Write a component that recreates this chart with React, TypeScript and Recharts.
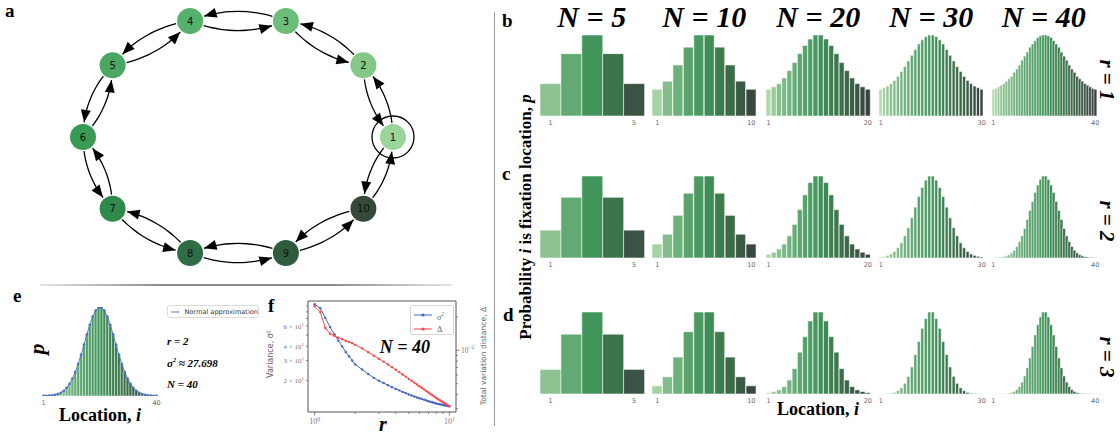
import React from 'react'
import {
  Bar,
  BarChart,
  Cell,
  ComposedChart,
  Line,
  ReferenceArea,
  Scatter,
  ScatterChart,
  XAxis,
  YAxis,
} from 'recharts'

// ---------- data ----------

const SIZES = [5, 10, 20, 30, 40]
const R_LABELS = [1, 2, 3]

// relative probability that location i is the fixation location (peak = 1)
const R1_N5 = [0.4, 0.77, 1.0, 0.77, 0.4]
const R1_N10 = [0.33, 0.43, 0.63, 0.85, 1.0, 1.0, 0.85, 0.63, 0.43, 0.33]
const R1_N20 = [0.33, 0.36, 0.4, 0.47, 0.56, 0.66, 0.77, 0.87, 0.95, 1.0, 1.0, 0.95, 0.87, 0.77, 0.66, 0.56, 0.47, 0.4, 0.36, 0.33]
const R1_N30 = [
  0.33, 0.35, 0.37, 0.4, 0.44, 0.49, 0.55, 0.61, 0.68, 0.75, 0.82, 0.89, 0.94, 0.98, 1.0,
  1.0, 0.98, 0.94, 0.89, 0.82, 0.75, 0.68, 0.61, 0.55, 0.49, 0.44, 0.4, 0.37, 0.35, 0.33,
]
const R1_N40 = [
  0.33, 0.34, 0.36, 0.38, 0.4, 0.43, 0.46, 0.49, 0.54, 0.58, 0.63, 0.69, 0.74, 0.79, 0.85, 0.89, 0.93, 0.97, 0.99, 1.0,
  1.0, 0.99, 0.97, 0.93, 0.89, 0.85, 0.79, 0.74, 0.69, 0.63, 0.58, 0.54, 0.49, 0.46, 0.43, 0.4, 0.38, 0.36, 0.34, 0.33,
]

const R2_N5 = [0.34, 0.74, 1.0, 0.74, 0.34]
const R2_N10 = [0.17, 0.29, 0.52, 0.79, 1.0, 1.0, 0.79, 0.52, 0.29, 0.17]
const R2_N20 = [0.045, 0.07, 0.11, 0.17, 0.27, 0.41, 0.59, 0.77, 0.92, 1.0, 1.0, 0.92, 0.77, 0.59, 0.41, 0.27, 0.17, 0.11, 0.07, 0.045]
const R2_N30 = [
  0.013, 0.02, 0.032, 0.05, 0.08, 0.125, 0.185, 0.27, 0.37, 0.49, 0.62, 0.75, 0.86, 0.95, 1.0,
  1.0, 0.95, 0.86, 0.75, 0.62, 0.49, 0.37, 0.27, 0.185, 0.125, 0.08, 0.05, 0.032, 0.02, 0.013,
]
const R2_N40 = [
  0.003, 0.0045, 0.007, 0.011, 0.017, 0.026, 0.04, 0.062, 0.095, 0.14, 0.2, 0.27, 0.36, 0.47, 0.58, 0.69, 0.8, 0.89, 0.96, 1.0,
  1.0, 0.96, 0.89, 0.8, 0.69, 0.58, 0.47, 0.36, 0.27, 0.2, 0.14, 0.095, 0.062, 0.04, 0.026, 0.017, 0.011, 0.007, 0.0045, 0.003,
]

const R3_N5 = [0.3, 0.73, 1.0, 0.73, 0.3]
const R3_N10 = [0.1, 0.21, 0.45, 0.76, 1.0, 1.0, 0.76, 0.45, 0.21, 0.1]
const R3_N20 = [0.016, 0.03, 0.05, 0.09, 0.17, 0.31, 0.51, 0.7, 0.89, 1.0, 1.0, 0.89, 0.7, 0.51, 0.31, 0.17, 0.09, 0.05, 0.03, 0.016]
const R3_N30 = [
  0.002, 0.003, 0.005, 0.01, 0.02, 0.04, 0.075, 0.13, 0.215, 0.33, 0.48, 0.64, 0.8, 0.92, 1.0,
  1.0, 0.92, 0.8, 0.64, 0.48, 0.33, 0.215, 0.13, 0.075, 0.04, 0.02, 0.01, 0.005, 0.003, 0.002,
]
const R3_N40 = [
  0.001, 0.0015, 0.002, 0.003, 0.004, 0.006, 0.01, 0.018, 0.032, 0.055, 0.09, 0.145, 0.22, 0.32, 0.44, 0.58, 0.72, 0.845, 0.94, 1.0,
  1.0, 0.94, 0.845, 0.72, 0.58, 0.44, 0.32, 0.22, 0.145, 0.09, 0.055, 0.032, 0.018, 0.01, 0.006, 0.004, 0.003, 0.002, 0.0015, 0.001,
]

const GRID = [
  [R1_N5, R1_N10, R1_N20, R1_N30, R1_N40],
  [R2_N5, R2_N10, R2_N20, R2_N30, R2_N40],
  [R3_N5, R3_N10, R3_N20, R3_N30, R3_N40],
]

// panel e: r = 2, N = 40 and its normal approximation
const NORMAL_N40 = [
  0.001, 0.002, 0.004, 0.007, 0.013, 0.022, 0.037, 0.059, 0.092, 0.137, 0.196, 0.271, 0.362, 0.466, 0.579, 0.694, 0.801, 0.893, 0.96, 0.995,
  0.995, 0.96, 0.893, 0.801, 0.694, 0.579, 0.466, 0.362, 0.271, 0.196, 0.137, 0.092, 0.059, 0.037, 0.022, 0.013, 0.007, 0.004, 0.002, 0.001,
]

// panel f: variance and total variation distance against r (N = 40)
const R_VALUES = [
  1.0, 1.1, 1.2, 1.3, 1.4, 1.5, 1.6, 1.7, 1.8, 1.9, 2.0, 2.25, 2.5, 2.75, 3.0, 3.25, 3.5, 3.75, 4.0, 4.25, 4.5, 4.75,
  5.0, 5.25, 5.5, 5.75, 6.0, 6.25, 6.5, 6.75, 7.0, 7.25, 7.5, 7.75, 8.0, 8.25, 8.5, 8.75, 9.0, 9.25, 9.5, 9.75, 10.0,
]
const VARIANCE = [
  93.3, 85.9, 70.8, 58.8, 50.9, 44.7, 39.8, 35.6, 32.6, 30.0, 27.7, 25.0, 22.8, 21.1, 19.9, 19.0, 18.2, 17.5, 16.9, 16.4, 15.9, 15.5,
  15.1, 14.8, 14.5, 14.2, 14.0, 13.8, 13.6, 13.4, 13.2, 13.0, 12.9, 12.7, 12.6, 12.5, 12.4, 12.3, 12.2, 12.1, 12.0, 11.95, 11.9,
]
const TV_DISTANCE = [
  0.0249, 0.0221, 0.0159, 0.0141, 0.0135, 0.013, 0.0126, 0.0122, 0.0119, 0.0116, 0.0112, 0.0104, 0.0096, 0.00895, 0.0084, 0.0079,
  0.00745, 0.00705, 0.00668, 0.00636, 0.00606, 0.00579, 0.00553, 0.00531, 0.00511, 0.00492, 0.00474, 0.00458, 0.00443, 0.00429,
  0.00416, 0.00404, 0.00393, 0.00382, 0.00372, 0.00363, 0.00355, 0.00347, 0.0034, 0.00333, 0.00327, 0.0032, 0.00313,
]
const X_TICKS = [1, 2, 3, 4, 5, 6, 7, 8, 9, 10]
const LEFT_TICKS = [20, 30, 40, 50, 60, 70, 80, 90]
const RIGHT_TICKS = [0.003, 0.004, 0.005, 0.006, 0.007, 0.008, 0.009, 0.01, 0.02]

// panel a: cycle graph
const NODE_IDS = [1, 2, 3, 4, 5, 6, 7, 8, 9, 10]
const NODE_COLORS = ['#9ad49a', '#83c886', '#6cbd7a', '#55b06b', '#4aa661', '#399a54', '#2f894b', '#2e6d45', '#2f5c3f', '#354a3a']
const EDGES: [number, number][] = [
  [1, 2], [2, 3], [3, 4], [4, 5], [5, 6], [6, 7], [7, 8], [8, 9], [9, 10], [10, 1],
  [2, 1], [3, 2], [4, 3], [5, 4], [6, 5], [7, 6], [8, 7], [9, 8], [10, 9], [1, 10],
]

// ---------- styling ----------

const SERIF = '"Liberation Serif", "DejaVu Serif", serif'
const SANS = '"DejaVu Sans", sans-serif'
const BLUE = '#4464c8'
const RED = '#ff4646'

const SHADE_STOPS: [number, string][] = [
  [0, '#b8e0b3'],
  [0.1, '#8dc393'],
  [0.3, '#63a974'],
  [0.5, '#41955b'],
  [0.7, '#3c734a'],
  [0.9, '#3b5245'],
  [1, '#383d3a'],
]

function shade(t: number) {
  let k = 0
  while (k < SHADE_STOPS.length - 2 && t > SHADE_STOPS[k + 1][0]) k++
  const [t0, c0] = SHADE_STOPS[k]
  const [t1, c1] = SHADE_STOPS[k + 1]
  const f = (t - t0) / (t1 - t0)
  const a = parseInt(c0.slice(1), 16)
  const b = parseInt(c1.slice(1), 16)
  const ch = (s: number) => Math.round(((a >> s) & 255) * (1 - f) + ((b >> s) & 255) * f)
  return `rgb(${ch(16)},${ch(8)},${ch(0)})`
}

const COL_LEFT = [539.5, 652, 766, 879, 991.5]
const CHART_W = 104.5
const ROW_TOP = [35, 176, 312]
const ROW_H = [81, 82, 82]
const PAD = 6 // room for the first / last tick label

// ---------- helpers ----------

function Txt({ x, y, size, anchor = 'start', rotate, style, children }: any) {
  if (rotate !== undefined) {
    return (
      <div
        style={{
          position: 'absolute',
          left: x,
          top: y,
          fontSize: size,
          lineHeight: 1,
          whiteSpace: 'nowrap',
          transform: `translate(-50%,-50%) rotate(${rotate}deg)`,
          ...style,
        }}
      >
        {children}
      </div>
    )
  }
  const shift = anchor === 'middle' ? '-50%' : anchor === 'end' ? '-100%' : '0'
  return (
    <div
      style={{
        position: 'absolute',
        left: x,
        top: y - 0.85 * size,
        fontSize: size,
        lineHeight: 1,
        whiteSpace: 'nowrap',
        transform: `translateX(${shift})`,
        ...style,
      }}
    >
      {children}
    </div>
  )
}

const boldSerif = { fontFamily: SERIF, fontWeight: 700 }
const boldItalic = { fontFamily: SERIF, fontWeight: 700, fontStyle: 'italic' }

function DistChart({ values, left, top, height }: any) {
  const n = values.length
  const data = values.map((p: number, k: number) => ({ i: k + 1, p }))
  return (
    <div style={{ position: 'absolute', left: left - PAD, top }}>
      <BarChart
        width={CHART_W + 2 * PAD}
        height={height + 14}
        data={data}
        margin={{ top: 0, right: PAD, bottom: 0, left: PAD }}
        barCategoryGap={0}
      >
        <XAxis
          dataKey="i"
          interval={0}
          tickLine={false}
          axisLine={false}
          tickSize={3}
          tickMargin={1}
          height={14}
          tick={{ fontSize: 6.5, fill: '#666', fontFamily: SANS }}
          tickFormatter={(v: number) => (v === 1 || v === n ? String(v) : '')}
        />
        <YAxis hide domain={[0, 1]} allowDataOverflow />
        <Bar dataKey="p" isAnimationActive={false} stroke="#ffffff" strokeWidth={0.7} strokeOpacity={0.8}>
          {data.map((d: any, k: number) => (
            <Cell key={`c-${k}`} fill={shade((k + 0.5) / n)} />
          ))}
        </Bar>
      </BarChart>
    </div>
  )
}

// node positions on an ellipse, like a circular graph layout
function ringLayout(count: number) {
  return Array.from({ length: count }, (_, k) => {
    const a = (k * 2 * Math.PI) / count
    return { x: 238 + 155 * Math.cos(a), y: 148 + 122 * Math.sin(a) }
  })
}

const POS = ringLayout(NODE_IDS.length)

function edgePoints(from: number, to: number) {
  const A = POS[from - 1]
  const B = POS[to - 1]
  const dx = B.x - A.x
  const dy = B.y - A.y
  const len = Math.hypot(dx, dy)
  const C = { x: (A.x + B.x) / 2 + 0.2 * dy, y: (A.y + B.y) / 2 - 0.2 * dx }
  const t0 = 13.5 / len
  const t1 = 1 - 14 / len
  const pts: any[] = []
  for (let s = 0; s <= 8; s++) {
    const t = t0 + ((t1 - t0) * s) / 8
    pts.push({
      x: (1 - t) * (1 - t) * A.x + 2 * t * (1 - t) * C.x + t * t * B.x,
      y: (1 - t) * (1 - t) * A.y + 2 * t * (1 - t) * C.y + t * t * B.y,
    })
  }
  const tx = 2 * (1 - t1) * (C.x - A.x) + 2 * t1 * (B.x - C.x)
  const ty = 2 * (1 - t1) * (C.y - A.y) + 2 * t1 * (B.y - C.y)
  pts[pts.length - 1].head = true
  pts[pts.length - 1].angle = Math.atan2(-ty, tx)
  return pts
}

const ArrowHead = (props: any) => {
  const { cx, cy, payload } = props
  if (!payload || !payload.head) return <g />
  const ux = Math.cos(payload.angle)
  const uy = Math.sin(payload.angle)
  const L = 12.5
  const W = 5
  const bx = cx - L * ux
  const by = cy - L * uy
  return <polygon points={`${cx},${cy} ${bx - W * uy},${by + W * ux} ${bx + W * uy},${by - W * ux}`} fill="#000" />
}

const NodeShape = (props: any) => {
  const { cx, cy, payload } = props
  return (
    <g>
      {payload.id === 1 && <circle cx={cx} cy={cy} r={21} fill="none" stroke="#000" strokeWidth={1.3} />}
      <circle cx={cx} cy={cy} r={13} fill={payload.color} />
      <text x={cx} y={cy} dy={3.6} textAnchor="middle" fontSize={10} fontFamily={SANS} fill="#111">
        {payload.id}
      </text>
    </g>
  )
}

const XLogTick = (props: any) => {
  const { x, y, payload } = props
  const v = payload.value
  const major = v === 1 || v === 10
  return (
    <g>
      <line x1={x} x2={x} y1={y} y2={y + (major ? 3.5 : 2)} stroke="#555" strokeWidth={0.7} />
      {major && (
        <text x={x} y={y + 12} textAnchor="middle" fontSize={8} fill="#777" fontFamily={SERIF}>
          10
          <tspan dy={-3.5} fontSize={5.5}>
            {v === 1 ? '0' : '1'}
          </tspan>
        </text>
      )}
    </g>
  )
}

const LeftLogTick = (props: any) => {
  const { x, y, payload } = props
  const m = Math.round(payload.value / 10)
  const labeled = m === 2 || m === 3 || m === 4 || m === 6
  return (
    <g>
      <line x1={x} x2={x - 2} y1={y} y2={y} stroke="#555" strokeWidth={0.7} />
      {labeled && (
        <text x={x - 4} y={y} dy={2.6} textAnchor="end" fontSize={7} fill="#777" fontFamily={SERIF}>
          {m} × 10
          <tspan dy={-3} fontSize={5}>
            1
          </tspan>
        </text>
      )}
    </g>
  )
}

const RightLogTick = (props: any) => {
  const { x, y, payload } = props
  const major = payload.value === 0.01
  return (
    <g>
      <line x1={x} x2={x + (major ? 3.5 : 2)} y1={y} y2={y} stroke="#555" strokeWidth={0.7} />
      {major && (
        <text x={x + 5} y={y} dy={2.6} textAnchor="start" fontSize={7.5} fill="#777" fontFamily={SERIF}>
          10
          <tspan dy={-3.5} fontSize={5.5}>
            −2
          </tspan>
        </text>
      )}
    </g>
  )
}

function LegendMark({ color }: any) {
  return (
    <svg width={18} height={6} style={{ verticalAlign: 'middle' }}>
      <line x1={0} x2={18} y1={3} y2={3} stroke={color} strokeWidth={1} />
      <circle cx={9} cy={3} r={1.6} fill={color} />
    </svg>
  )
}

// ---------- app ----------

export default function App() {
  const nodeData = NODE_IDS.map((id, k) => ({ id, color: NODE_COLORS[k], x: POS[k].x, y: POS[k].y }))
  const edgeData = EDGES.map(([a, b]) => edgePoints(a, b))
  const eData = R2_N40.map((p, k) => ({ i: k + 1, p, normal: NORMAL_N40[k] }))
  const fData = R_VALUES.map((r, k) => ({ r, sigma2: VARIANCE[k], delta: TV_DISTANCE[k] }))

  return (
    <div style={{ position: 'absolute', left: 0, top: 0, width: 1120, height: 438, overflow: 'hidden', background: '#fff' }}>
      {/* panel a */}
      <div style={{ position: 'absolute', left: 0, top: 0 }}>
        <ScatterChart width={480} height={285} margin={{ top: 0, right: 0, bottom: 0, left: 0 }}>
          <XAxis type="number" dataKey="x" domain={[0, 480]} hide allowDataOverflow />
          <YAxis type="number" dataKey="y" domain={[0, 285]} hide allowDataOverflow />
          {edgeData.map((pts, k) => (
            <Scatter
              key={`e-${k}`}
              data={pts}
              line={{ stroke: '#000', strokeWidth: 1.3 }}
              lineJointType="natural"
              shape={ArrowHead}
              isAnimationActive={false}
            />
          ))}
          <Scatter data={nodeData} shape={NodeShape} isAnimationActive={false} />
        </ScatterChart>
      </div>
      <Txt x={5} y={17} size={19} style={boldSerif}>a</Txt>
      <div
        style={{
          position: 'absolute',
          left: 40,
          top: 284,
          width: 412,
          height: 1.5,
          background: 'linear-gradient(to right, #e4e4e4, #8a8a8a 30%, #8a8a8a 70%, #e4e4e4)',
        }}
      />

      {/* separator */}
      <div style={{ position: 'absolute', left: 494, top: 12, width: 1, height: 414, background: '#9a9a9a' }} />

      {/* panels b, c, d */}
      {GRID.map((row, ri) =>
        row.map((values, ci) => (
          <DistChart key={`g-${ri}-${ci}`} values={values} left={COL_LEFT[ci]} top={ROW_TOP[ri]} height={ROW_H[ri]} />
        ))
      )}
      {SIZES.map((n, ci) => (
        <Txt key={`t-${n}`} x={COL_LEFT[ci] + CHART_W / 2} y={27} size={30} anchor="middle" style={boldItalic}>
          N = {n}
        </Txt>
      ))}
      {R_LABELS.map((r, ri) => (
        <Txt key={`r-${r}`} x={1106} y={ROW_TOP[ri] + ROW_H[ri] / 2 + 4} size={21} rotate={90} style={boldItalic}>
          r = {r}
        </Txt>
      ))}
      <Txt x={502} y={27} size={19} style={boldSerif}>b</Txt>
      <Txt x={502} y={180} size={19} style={boldSerif}>c</Txt>
      <Txt x={503} y={321} size={19} style={boldSerif}>d</Txt>
      <Txt x={525} y={217} size={17} rotate={-90} style={boldSerif}>
        Probability <i>i</i> is fixation location, <i>p</i>
      </Txt>
      <Txt x={818} y={415} size={18} anchor="middle" style={boldSerif}>
        Location, <i>i</i>
      </Txt>

      {/* panel e */}
      <Txt x={13} y={302} size={19} style={boldSerif}>e</Txt>
      <div style={{ position: 'absolute', left: 42 - PAD, top: 307 }}>
        <ComposedChart
          width={116 + 2 * PAD}
          height={103}
          data={eData}
          margin={{ top: 0, right: PAD, bottom: 0, left: PAD }}
          barCategoryGap={0}
        >
          <XAxis
            dataKey="i"
            interval={0}
            tickLine={false}
            axisLine={false}
            tickSize={3}
            tickMargin={1}
            height={14}
            tick={{ fontSize: 6.5, fill: '#666', fontFamily: SANS }}
            tickFormatter={(v: number) => (v === 1 || v === 40 ? String(v) : '')}
          />
          <YAxis hide domain={[0, 1]} allowDataOverflow />
          <Bar dataKey="p" isAnimationActive={false} stroke="#ffffff" strokeWidth={0.6} strokeOpacity={0.8}>
            {eData.map((d, k) => (
              <Cell key={`e-${k}`} fill={shade((k + 0.5) / 40)} />
            ))}
          </Bar>
          <Line
            dataKey="normal"
            type="linear"
            stroke="#5b7fc7"
            strokeWidth={1}
            dot={{ r: 1.3, fill: '#4a6fc0', stroke: 'none' }}
            isAnimationActive={false}
          />
        </ComposedChart>
      </div>
      <Txt x={37} y={349} size={22} rotate={-90} style={boldItalic}>p</Txt>
      <Txt x={100} y={421} size={18} anchor="middle" style={boldSerif}>
        Location, <i>i</i>
      </Txt>
      <div
        style={{
          position: 'absolute',
          left: 167,
          top: 305,
          width: 92,
          height: 13,
          border: '1px solid #dcdcdc',
          borderRadius: 2,
          boxSizing: 'border-box',
          display: 'flex',
          alignItems: 'center',
          paddingLeft: 3,
          fontFamily: SANS,
          fontSize: 6.6,
          color: '#333',
          whiteSpace: 'nowrap',
        }}
      >
        <LegendMark color="#5b7fc7" />
        <span style={{ marginLeft: 5 }}>Normal approximation</span>
      </div>
      <Txt x={167} y={345} size={11} style={boldItalic}>r = 2</Txt>
      <Txt x={167} y={366} size={11} style={boldItalic}>
        σ<sup style={{ fontSize: '0.55em' }}>2</sup> ≈ 27.698
      </Txt>
      <Txt x={167} y={388} size={11} style={boldItalic}>N = 40</Txt>

      {/* panel f */}
      <Txt x={268} y={312} size={19} style={boldSerif}>f</Txt>
      <div style={{ position: 'absolute', left: 260, top: 296 }}>
        <ComposedChart width={240} height={140} data={fData} margin={{ top: 5, right: 0, bottom: 0, left: 0 }}>
          <XAxis
            dataKey="r"
            type="number"
            scale="log"
            domain={[0.892, 11.21]}
            allowDataOverflow
            ticks={X_TICKS}
            interval={0}
            tick={<XLogTick />}
            tickLine={false}
            axisLine={false}
            tickSize={0}
            tickMargin={0}
            height={24}
          />
          <YAxis
            yAxisId="left"
            type="number"
            scale="log"
            domain={[10.6, 99.5]}
            allowDataOverflow
            ticks={LEFT_TICKS}
            interval={0}
            tick={<LeftLogTick />}
            tickLine={false}
            axisLine={false}
            tickSize={0}
            tickMargin={0}
            width={48}
          />
          <YAxis
            yAxisId="right"
            orientation="right"
            type="number"
            scale="log"
            domain={[0.00278, 0.0278]}
            allowDataOverflow
            ticks={RIGHT_TICKS}
            interval={0}
            tick={<RightLogTick />}
            tickLine={false}
            axisLine={false}
            tickSize={0}
            tickMargin={0}
            width={44}
          />
          <ReferenceArea yAxisId="left" x1={0.892} x2={11.21} y1={10.6} y2={99.5} fill="none" stroke="#555" strokeWidth={1} />
          <Line
            yAxisId="left"
            dataKey="sigma2"
            type="linear"
            stroke={BLUE}
            strokeWidth={1}
            dot={{ r: 1.2, fill: BLUE, stroke: 'none' }}
            isAnimationActive={false}
          />
          <Line
            yAxisId="right"
            dataKey="delta"
            type="linear"
            stroke={RED}
            strokeWidth={1}
            dot={{ r: 1.2, fill: RED, stroke: 'none' }}
            isAnimationActive={false}
          />
        </ComposedChart>
      </div>
      <Txt x={271} y={354} size={8} rotate={-90} style={{ fontFamily: SANS, color: '#666' }}>
        Variance, σ<sup style={{ fontSize: '0.6em' }}>2</sup>
      </Txt>
      <Txt x={484} y={356} size={7.6} rotate={-90} style={{ fontFamily: SANS, color: '#666' }}>
        Total variation distance, Δ
      </Txt>
      <Txt x={405} y={353} size={18} anchor="middle" style={boldItalic}>N = 40</Txt>
      <Txt x={383} y={431} size={20} anchor="middle" style={boldItalic}>r</Txt>
      <div
        style={{
          position: 'absolute',
          left: 410,
          top: 305,
          width: 44,
          height: 30,
          border: '1px solid #d6d6d6',
          borderRadius: 2,
          boxSizing: 'border-box',
          background: '#fff',
          fontFamily: SERIF,
          fontSize: 8.5,
          color: '#666',
          padding: '2px 0 0 3px',
          lineHeight: '12px',
        }}
      >
        <div style={{ display: 'flex', alignItems: 'center' }}>
          <LegendMark color={BLUE} />
          <span style={{ marginLeft: 5, fontStyle: 'italic' }}>
            σ<sup style={{ fontSize: '0.65em' }}>2</sup>
          </span>
        </div>
        <div style={{ display: 'flex', alignItems: 'center' }}>
          <LegendMark color={RED} />
          <span style={{ marginLeft: 5 }}>Δ</span>
        </div>
      </div>
    </div>
  )
}
